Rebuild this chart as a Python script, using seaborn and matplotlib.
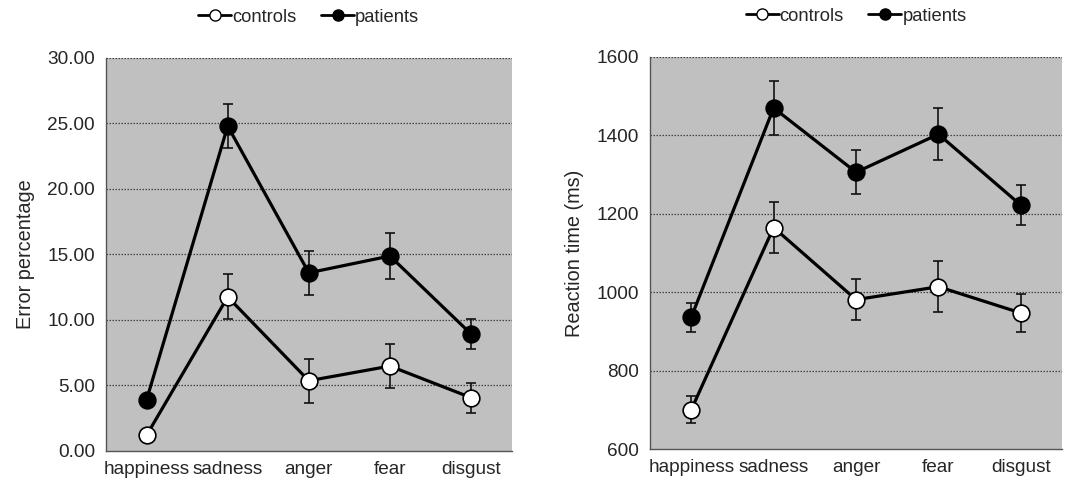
import numpy as np
import pandas as pd
import matplotlib
matplotlib.use("Agg")
import matplotlib.pyplot as plt
from matplotlib.lines import Line2D
from matplotlib.ticker import FormatStrFormatter, FixedLocator
import seaborn as sns

# --- Data ---
emotions = ["happiness", "sadness", "anger", "fear", "disgust"]

err_controls = [1.2, 11.76, 5.36, 6.48, 4.07]
err_controls_se = [0.3, 1.72, 1.67, 1.71, 1.14]
err_patients = [3.9, 24.8, 13.6, 14.88, 8.93]
err_patients_se = [0.4, 1.7, 1.68, 1.73, 1.17]

rt_controls = [700, 1165, 981, 1014, 947]
rt_controls_se = [34, 65, 53, 65, 48]
rt_patients = [936, 1470, 1306, 1403, 1222]
rt_patients_se = [37, 70, 56, 67, 51]

groups = ["controls", "patients"]
face_colors = {"controls": "white", "patients": "black"}


def long_frame(ctrl, pat):
    return pd.DataFrame({
        "emotion": emotions * 2,
        "value": list(ctrl) + list(pat),
        "group": ["controls"] * len(emotions) + ["patients"] * len(emotions),
    })


def draw_panel(ax, df, ses, ylim, yticks, ylabel, fmt):
    ax.set_facecolor("#c0c0c0")
    for g in groups:
        sub = df[df["group"] == g]
        x = np.arange(len(emotions))
        ax.errorbar(x, sub["value"].values, yerr=ses[g], fmt="none",
                    ecolor="#111111", elinewidth=1.2, capsize=3.5,
                    capthick=1.2, zorder=2)
        sns.lineplot(x=x, y=sub["value"].values, ax=ax, color="black",
                     linewidth=2.3, marker="o", markersize=12,
                     markerfacecolor=face_colors[g], markeredgecolor="black",
                     markeredgewidth=1.2, zorder=3)
    ax.set_xlim(-0.5, len(emotions) - 0.5)
    ax.set_ylim(*ylim)
    ax.set_yticks(yticks)
    ax.yaxis.set_major_formatter(FormatStrFormatter(fmt))
    ax.set_xticks(range(len(emotions)))
    ax.set_xticklabels(emotions)
    ax.xaxis.set_minor_locator(FixedLocator(np.arange(-0.5, len(emotions), 1.0)))
    ax.tick_params(axis="x", which="major", length=0, pad=7, labelsize=13.7)
    ax.tick_params(axis="x", which="minor", length=5, width=1, color="#555555",
                   direction="out")
    ax.tick_params(axis="y", length=5, width=1, color="#555555",
                   direction="out", labelsize=13.7, pad=3)
    for y in yticks[1:]:
        ax.axhline(y, color="#444444", linestyle=(0, (1.2, 1.2)),
                   linewidth=0.9, zorder=1)
    for side in ["top", "right"]:
        ax.spines[side].set_visible(False)
    for side in ["left", "bottom"]:
        ax.spines[side].set_color("#555555")
        ax.spines[side].set_linewidth(1.0)
    ax.set_xlabel("")
    ax.set_ylabel(ylabel, fontsize=14.3, labelpad=9)

    handles = [
        Line2D([0], [0], color="black", linewidth=2, marker="o", markersize=8,
               markerfacecolor=face_colors[g], markeredgecolor="black")
        for g in groups
    ]
    ax.legend(handles, groups, loc="center", bbox_to_anchor=(0.5, 1.104),
              ncol=2, frameon=False, fontsize=13.2, handlelength=1.8,
              handletextpad=0.05, columnspacing=1.35)


sns.set_theme(style="white")
plt.rcParams["font.family"] = ["Liberation Sans", "DejaVu Sans"]

fig = plt.figure(figsize=(10.73, 4.87), dpi=100)
ax1 = fig.add_axes([0.0988, 0.074, 0.378, 0.807])
ax2 = fig.add_axes([0.6058, 0.078, 0.384, 0.805])

draw_panel(ax1, long_frame(err_controls, err_patients),
           {"controls": err_controls_se, "patients": err_patients_se},
           (0, 30), [0, 5, 10, 15, 20, 25, 30], "Error percentage", "%.2f")
draw_panel(ax2, long_frame(rt_controls, rt_patients),
           {"controls": rt_controls_se, "patients": rt_patients_se},
           (600, 1600), [600, 800, 1000, 1200, 1400, 1600],
           "Reaction time (ms)", "%d")

fig.savefig("out.png", dpi=100, facecolor="white")
